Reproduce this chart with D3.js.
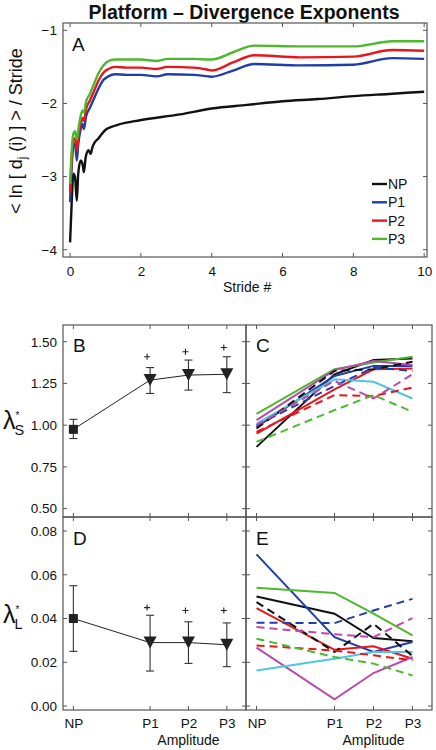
<!DOCTYPE html>
<html><head><meta charset="utf-8">
<script src="https://cdn.jsdelivr.net/npm/d3@7"></script>
<style>
html,body{margin:0;padding:0;background:#fff;}
text{font-family:"Liberation Sans",Arial,Helvetica,sans-serif;}
</style></head>
<body><svg id="chart" width="436" height="750"></svg>
<script>
// ---------- Panel A data ----------
const strideX = [0,0.047,0.094,0.14,0.19,0.23,0.3,0.35,0.39,0.45,0.56,0.66,0.8,0.94,1.08,1.27,1.6,2.0,2.45,2.75,3.5,3.9,4.0,4.6,5.2,6.5,8.0,9.1,10];
const p1Curve = [-3.35,-2.85,-2.58,-2.55,-2.78,-2.56,-2.35,-2.28,-2.35,-2.18,-2.06,-1.95,-1.8,-1.68,-1.63,-1.60,-1.61,-1.61,-1.63,-1.60,-1.61,-1.63,-1.635,-1.55,-1.46,-1.48,-1.47,-1.38,-1.39];
const p2Curve = [-3.22,-2.75,-2.5,-2.48,-2.65,-2.47,-2.27,-2.2,-2.24,-2.08,-1.96,-1.85,-1.69,-1.58,-1.53,-1.50,-1.51,-1.51,-1.53,-1.50,-1.51,-1.54,-1.55,-1.44,-1.34,-1.37,-1.36,-1.27,-1.28];
const p3Curve = [-3.1,-2.64,-2.41,-2.38,-2.5,-2.37,-2.17,-2.1,-2.12,-1.98,-1.87,-1.75,-1.59,-1.48,-1.42,-1.40,-1.40,-1.40,-1.42,-1.39,-1.39,-1.40,-1.40,-1.30,-1.21,-1.22,-1.22,-1.15,-1.15];
const npStrideX = [0,0.05,0.094,0.14,0.19,0.23,0.3,0.36,0.39,0.44,0.52,0.58,0.63,0.7,0.8,0.89,1.03,1.17,1.36,1.97,3.1,4,5,6,7,8,9,10];
const npCurve = [-3.9,-3.3,-2.96,-3.01,-3.33,-2.96,-2.78,-2.85,-2.94,-2.74,-2.64,-2.69,-2.6,-2.53,-2.48,-2.42,-2.35,-2.32,-2.29,-2.23,-2.15,-2.07,-2.02,-1.97,-1.94,-1.90,-1.87,-1.84];
const legendNames = ["NP","P1","P2","P3"];
const aXTicks = [0,2,4,6,8,10];
const aYTicks = [-4,-3,-2,-1];

// ---------- Panels B-E data ----------
const categories = ["NP","P1","P2","P3"];
const catPos = [0,2,3,4];
const lsMean = [0.975,1.27,1.30,1.305];
const lsLow  = [0.92,1.19,1.21,1.195];
const lsHigh = [1.035,1.345,1.39,1.41];
const lsSig  = [null,1.41,1.44,1.465];
const llMean = [0.040,0.029,0.029,0.028];
const llLow  = [0.025,0.016,0.0195,0.018];
const llHigh = [0.055,0.0415,0.0385,0.038];
const llSig  = [null,0.045,0.0437,0.0437];
const bTicks = [0.50,0.75,1.00,1.25,1.50];
const dTicks = [0.00,0.02,0.04,0.06,0.08];

const subjectColor = ["black","blue","red","green","magenta","cyan","black","blue","red","green","magenta"];
const subjectDashed = [false,false,false,false,false,false,true,true,true,true,true];
const subjectLS = [
  [0.87,1.305,1.39,1.40],
  [0.99,1.295,1.355,1.355],
  [0.95,1.215,1.335,1.34],
  [1.067,1.335,1.375,1.41],
  [1.03,1.33,1.385,1.36],
  [1.01,1.275,1.26,1.16],
  [0.98,1.325,1.335,1.38],
  [1.00,1.235,1.345,1.325],
  [0.96,1.18,1.175,1.225],
  [0.90,1.09,1.18,1.08],
  [1.00,1.265,1.16,1.305]
];
const subjectLL = [
  [0.0501,0.0422,0.0311,0.0296],
  [0.0693,0.0315,0.0247,0.0293],
  [0.0448,0.0257,0.0273,0.0216],
  [0.0541,0.0517,0.0422,0.0323],
  [0.0267,0.0031,0.0151,0.0224],
  [0.0163,0.0216,0.0247,0.0247],
  [0.0475,0.0247,0.0376,0.0229],
  [0.0381,0.0379,0.0437,0.049],
  [0.0277,0.0254,0.0232,0.0209],
  [0.0308,0.0224,0.0194,0.014],
  [0.0361,0.0328,0.0315,0.0402]
];

const palette = {black:"#111111",blue:"#1f3ea6",red:"#e8161b",green:"#4cb82b",magenta:"#b84aab",cyan:"#4fc6dd"};
const frameColor = "#555";
const textColor = "#111";

const svg = d3.select("#chart");

function frame(g, x0, y0, w, h){
  g.append("rect").attr("x",x0).attr("y",y0).attr("width",w).attr("height",h)
   .attr("fill","none").attr("stroke",frameColor).attr("stroke-width",1.2);
}
function mirrorTicks(xs, ys, xt, yt, len){
  const g = svg.append("g").attr("stroke",frameColor).attr("stroke-width",1);
  const [x0,x1] = xs.range(), [y0,y1] = [ys.range()[1], ys.range()[0]];
  xt.forEach(t=>{
    const px = xs(t);
    g.append("line").attr("x1",px).attr("x2",px).attr("y1",y1).attr("y2",y1-len);
    g.append("line").attr("x1",px).attr("x2",px).attr("y1",y0).attr("y2",y0+len);
  });
  yt.forEach(t=>{
    const py = ys(t);
    g.append("line").attr("x1",x0).attr("x2",x0+len).attr("y1",py).attr("y2",py);
    g.append("line").attr("x1",x1).attr("x2",x1-len).attr("y1",py).attr("y2",py);
  });
}
function styleAxis(a, size){
  a.select(".domain").remove();
  a.selectAll("text").attr("font-size",size).attr("fill",textColor).attr("font-family","Liberation Sans, Arial, sans-serif");
}

// ---------- Title ----------
svg.append("text").attr("x",244).attr("y",19).attr("text-anchor","middle").attr("fill",textColor)
  .attr("font-size",19.5).attr("font-weight","bold").text("Platform \u2013 Divergence Exponents");

// ---------- Panel A ----------
const A = {l:63,r:427,t:23,b:257};
const xA = d3.scaleLinear().domain([-0.2,10.08]).range([A.l,A.r]);
const yA = d3.scaleLinear().domain([-4.1,-0.9]).range([A.b,A.t]);
frame(svg, A.l, A.t, A.r-A.l, A.b-A.t);
mirrorTicks(xA, yA, aXTicks, aYTicks, 4);
const axA = svg.append("g").attr("transform",`translate(0,${A.b})`)
  .call(d3.axisBottom(xA).tickValues(aXTicks).tickSize(0).tickPadding(9).tickFormat(d3.format("d")));
const ayA = svg.append("g").attr("transform",`translate(${A.l},0)`)
  .call(d3.axisLeft(yA).tickValues(aYTicks).tickSize(0).tickPadding(6).tickFormat(d=>"\u2212"+Math.abs(d)));
styleAxis(axA,13.5); styleAxis(ayA,13.5);
svg.append("text").attr("x",(xA(0)+xA(10))/2).attr("y",292).attr("text-anchor","middle").attr("font-size",14).attr("fill",textColor).text("Stride #");
const yLab = svg.append("text").attr("transform","translate(22,131) rotate(-90)").attr("text-anchor","middle").attr("font-size",18).attr("fill",textColor);
yLab.append("tspan").text("< ln [ d");
yLab.append("tspan").attr("font-size",12).attr("dy",4).text("j");
yLab.append("tspan").attr("dy",-4).text(" (i) ] > / Stride");
svg.append("text").attr("x",72).attr("y",51).attr("font-size",19).attr("fill",textColor).text("A");

const lineA = d3.line().x(d=>xA(d[0])).y(d=>yA(d[1])).curve(d3.curveMonotoneX);
const curvesA = [
  {x:npStrideX, y:npCurve, c:palette.black},
  {x:strideX, y:p1Curve, c:palette.blue},
  {x:strideX, y:p2Curve, c:palette.red},
  {x:strideX, y:p3Curve, c:palette.green}
];
curvesA.forEach(s=>{
  svg.append("path").datum(s.x.map((v,i)=>[v,s.y[i]])).attr("d",lineA)
    .attr("fill","none").attr("stroke",s.c).attr("stroke-width",2.4).attr("stroke-linejoin","round");
});
legendNames.forEach((n,i)=>{
  const y = 184 + i*18.3;
  svg.append("line").attr("x1",372).attr("x2",387).attr("y1",y).attr("y2",y)
    .attr("stroke",curvesA[i].c).attr("stroke-width",2.4);
  svg.append("text").attr("x",388).attr("y",y+5).attr("font-size",14).attr("fill",textColor).text(n);
});

// ---------- Panels B-E ----------
const P = {
  B:{l:63,r:246,t:325,b:517},
  C:{l:246,r:432,t:325,b:517},
  D:{l:63,r:246,t:517,b:710},
  E:{l:246,r:432,t:517,b:710}
};
const xDom = [-0.27,4.5];
const lsDom = [0.45,1.60];
const llDom = [-0.0018,0.0864];
const sc = {};
for (const k in P){
  const p = P[k];
  sc[k] = {
    x: d3.scaleLinear().domain(xDom).range([p.l,p.r]),
    y: d3.scaleLinear().domain((k==="B"||k==="C")?lsDom:llDom).range([p.b,p.t])
  };
  frame(svg, p.l, p.t, p.r-p.l, p.b-p.t);
  mirrorTicks(sc[k].x, sc[k].y, catPos, (k==="B"||k==="C")?bTicks:dTicks, 4);
}
[["B",bTicks],["D",dTicks]].forEach(([k,t])=>{
  const a = svg.append("g").attr("transform",`translate(${P[k].l},0)`)
    .call(d3.axisLeft(sc[k].y).tickValues(t).tickSize(0).tickPadding(6).tickFormat(d3.format(".2f")));
  styleAxis(a,13.5);
});
["D","E"].forEach(k=>{
  const a = svg.append("g").attr("transform",`translate(0,${P[k].b})`)
    .call(d3.axisBottom(sc[k].x).tickValues(catPos).tickSize(0).tickPadding(8).tickFormat((d,i)=>categories[i]));
  styleAxis(a,13.5);
  svg.append("text").attr("x",sc[k].x(3)).attr("y",745).attr("text-anchor","middle").attr("font-size",14).attr("fill",textColor).text("Amplitude");
});
[["B",73,352],["C",256,352],["D",73,545],["E",256,545]].forEach(([t,x,y])=>{
  svg.append("text").attr("x",x).attr("y",y).attr("font-size",19).attr("fill",textColor).text(t);
});
function lambdaLabel(y, sub){
  const t = svg.append("text").attr("x",3).attr("y",y).attr("font-size",25).attr("fill",textColor);
  t.append("tspan").text("\u03BB");
  t.append("tspan").attr("font-size",10).attr("dy",-10).text("*");
  t.append("tspan").attr("font-size",14.5).attr("dy",16).attr("dx",-5).text(sub);
}
lambdaLabel(sc.B.y(1.0)+4, "S");
lambdaLabel(sc.D.y(0.04)+4, "L");

function meanPanel(k, mean, lo, hi, sig){
  const x = sc[k].x, y = sc[k].y;
  const pts = catPos.map((c,i)=>[x(c), y(mean[i])]);
  svg.append("path").attr("d", d3.line()(pts)).attr("fill","none").attr("stroke","#222").attr("stroke-width",1);
  const eg = svg.append("g").attr("stroke","#333").attr("stroke-width",1.1);
  catPos.forEach((c,i)=>{
    const px = x(c);
    eg.append("line").attr("x1",px).attr("x2",px).attr("y1",y(lo[i])).attr("y2",y(hi[i]));
    eg.append("line").attr("x1",px-4).attr("x2",px+4).attr("y1",y(lo[i])).attr("y2",y(lo[i]));
    eg.append("line").attr("x1",px-4).attr("x2",px+4).attr("y1",y(hi[i])).attr("y2",y(hi[i]));
  });
  catPos.forEach((c,i)=>{
    const px = x(c), py = y(mean[i]);
    if (i===0){
      svg.append("rect").attr("x",px-4.5).attr("y",py-4.5).attr("width",9).attr("height",9).attr("fill","#222");
    } else {
      svg.append("path").attr("d",`M${px-6.5},${py-6} L${px+6.5},${py-6} L${px},${py+6} Z`).attr("fill","#222");
      const sx = px-3, sy = y(sig[i]);
      svg.append("path").attr("d",`M${sx-3},${sy} L${sx+3},${sy} M${sx},${sy-3} L${sx},${sy+3}`)
        .attr("stroke","#222").attr("stroke-width",1.1).attr("fill","none");
    }
  });
}
meanPanel("B", lsMean, lsLow, lsHigh, lsSig);
meanPanel("D", llMean, llLow, llHigh, llSig);

function subjPanel(k, data){
  const x = sc[k].x, y = sc[k].y;
  const ln = d3.line().x((d,i)=>x(catPos[i])).y(d=>y(d));
  data.forEach((s,j)=>{
    svg.append("path").datum(s).attr("d",ln).attr("fill","none")
      .attr("stroke",palette[subjectColor[j]]).attr("stroke-width",2)
      .attr("stroke-dasharray",subjectDashed[j]?"8,5":null);
  });
}
subjPanel("C", subjectLS);
subjPanel("E", subjectLL);
</script></body></html>
